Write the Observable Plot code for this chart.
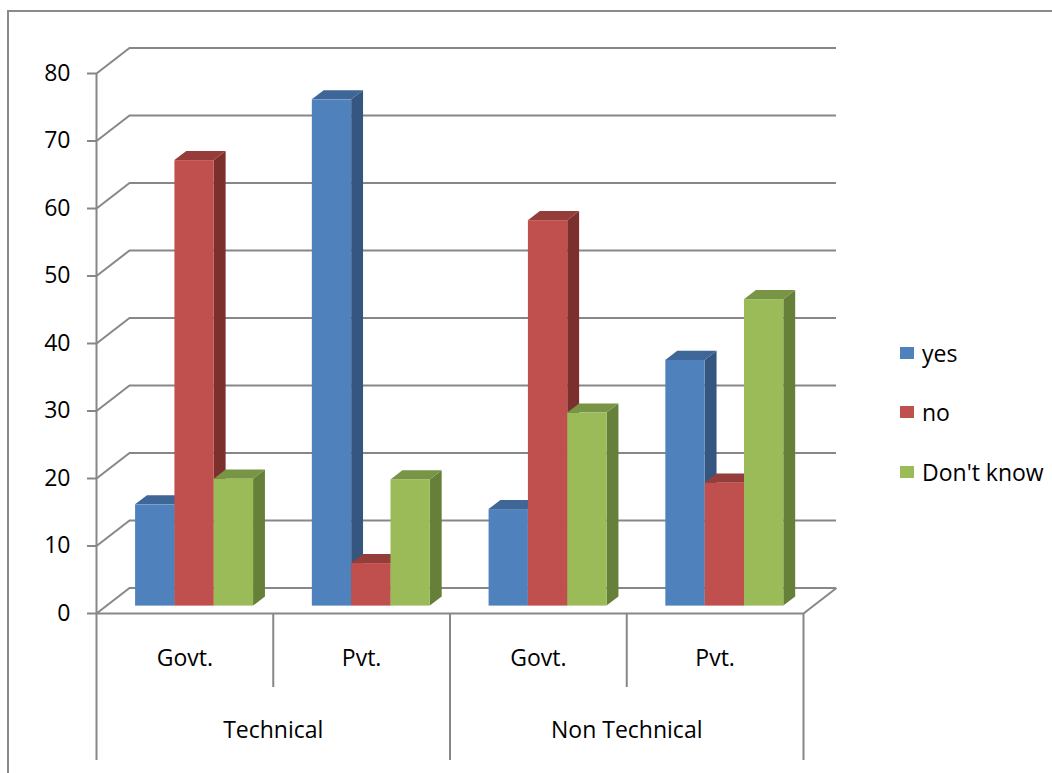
<!DOCTYPE html>
<html>
<head>
<meta charset="utf-8">
<script src="https://cdn.jsdelivr.net/npm/d3@7"></script>
<script src="https://cdn.jsdelivr.net/npm/@observablehq/plot@0.6"></script>
<style>
  html, body { margin: 0; padding: 0; background: #fff; overflow: hidden; }
  #wrap { position: relative; width: 1052px; height: 773px; font-family: "Open Sans", sans-serif; }
  #frame { position: absolute; left: 7px; top: 10px; width: 1100px; height: 820px; border: 2px solid #8a8a8a; box-sizing: border-box; pointer-events: none; }
  #legend { position: absolute; left: 900px; top: 323px; }
  .item { display: flex; align-items: center; height: 59.5px; font-size: 23px; color: #000; }
  .swatch { width: 14px; height: 12px; margin-right: 8px; }
</style>
</head>
<body>
<div id="wrap"><div id="frame"></div><div id="legend"></div></div>
<script>
// Categories
const groups = ["Govt.", "Pvt.", "Govt.", "Pvt."];
const sectors = ["Technical", "Non Technical"];
const seriesNames = ["yes", "no", "Don't know"];

// Series values (per group)
const yes = [15, 75, 14.3, 36.4];
const no = [66, 6.3, 57.1, 18.2];
const dontKnow = [18.8, 18.7, 28.6, 45.4];

// Value axis ticks
const yTicks = [0, 10, 20, 30, 40, 50, 60, 70, 80];

// Face colours: front, top, side
const frontColors = ["#4f81bd", "#c0504d", "#9bbb59"];
const topColors = ["#3e6697", "#953d3a", "#789445"];
const sideColors = ["#34567f", "#7c302e", "#66803a"];

// Frame layout (pixels)
const W = 1052, H = 773;
const frameL = 96, frameR = 803, frameT = 73, frameB = 613;
const pxPerX = (frameR - frameL) / groups.length;
const pxPerY = (frameB - frameT) / 80;
// oblique depth offset of the back wall, in data units
const DX = 33 / pxPerX;
const DY = 25.5 / pxPerY;
// bar placement inside a category slot and within the depth
const GAP = 0.167, BW = 0.2225, D0 = 0.29, D1 = 0.65;
const grey = "#878787";
const yOf = px => -(px - frameB) / pxPerY; // pixel row below the floor -> value units

const series = [yes, no, dontKnow];
const bars = [];
groups.forEach((g, gi) => {
  series.forEach((vals, si) => {
    const a = gi + GAP + si * BW, b = a + BW, v = vals[gi];
    bars.push({id: `${gi}-${si}`, si, a, b, v});
  });
});

const sideRows = bars.flatMap(d => [D0, D1].map(t => ({id: d.id, si: d.si, x: d.b + t * DX, y1: t * DY, y2: d.v + t * DY})));
const topRows = bars.flatMap(d => [D0, D1].map(t => ({id: d.id, si: d.si, y: d.v + t * DY, x1: d.a + t * DX, x2: d.b + t * DX})));

const groupLabels = groups.map((g, i) => ({label: g, x: i + 0.5}));
const sectorLabels = sectors.map((s, i) => ({label: s, x: i * 2 + 1}));

const chart = Plot.plot({
  width: W,
  height: H,
  marginLeft: frameL,
  marginRight: W - frameR,
  marginTop: frameT,
  marginBottom: H - frameB,
  x: {domain: [0, groups.length], axis: null},
  y: {domain: [0, 80]},
  color: {type: "identity"},
  style: {fontFamily: "'Open Sans', sans-serif", fontSize: "23px", color: "#000", background: "transparent", overflow: "visible"},
  marks: [
    // back wall gridlines and their returns to the front axis
    Plot.ruleY(yTicks, {y: t => t + DY, x1: () => DX, x2: () => groups.length + DX, stroke: grey, strokeWidth: 2}),
    Plot.link(yTicks, {x1: () => 0, y1: t => t, x2: () => DX, y2: t => t + DY, stroke: grey, strokeWidth: 2}),
    // floor
    Plot.ruleY([0], {x1: () => 0, x2: () => groups.length, stroke: grey, strokeWidth: 2}),
    Plot.link([0], {x1: () => groups.length, y1: () => 0, x2: () => groups.length + DX, y2: () => DY, stroke: grey, strokeWidth: 2}),
    // value axis
    Plot.ruleX([0], {y1: () => 80, y2: () => yOf(760), stroke: grey, strokeWidth: 2}),
    Plot.axisY({ticks: yTicks, tickSize: 9, tickPadding: 17, stroke: grey, strokeWidth: 2, fill: "#000", fontSize: 23, label: null, tickFormat: d => d}),
    // category separators
    Plot.ruleX([2, 4], {y1: () => 0, y2: () => yOf(760), stroke: grey, strokeWidth: 2}),
    Plot.ruleX([1, 3], {y1: () => 0, y2: () => yOf(687), stroke: grey, strokeWidth: 2}),
    // bars: side, top and front faces
    Plot.areaY(sideRows, {x: "x", y1: "y1", y2: "y2", z: "id", fill: d => sideColors[d.si]}),
    Plot.areaX(topRows, {y: "y", x1: "x1", x2: "x2", z: "id", fill: d => topColors[d.si]}),
    Plot.rect(bars, {x1: d => d.a + D0 * DX, x2: d => d.b + D0 * DX, y1: () => D0 * DY, y2: d => d.v + D0 * DY, fill: d => frontColors[d.si]}),
    // category labels
    Plot.text(groupLabels, {x: "x", y: () => yOf(658), text: "label", fill: "#000", fontSize: 23}),
    Plot.text(sectorLabels, {x: "x", y: () => yOf(730), text: "label", fill: "#000", fontSize: 23})
  ]
});

document.getElementById("wrap").prepend(chart);

const legend = document.getElementById("legend");
seriesNames.forEach((name, i) => {
  const item = document.createElement("div");
  item.className = "item";
  const sw = document.createElement("span");
  sw.className = "swatch";
  sw.style.background = frontColors[i];
  const label = document.createElement("span");
  label.textContent = name;
  item.append(sw, label);
  legend.append(item);
});
</script>
</body>
</html>
